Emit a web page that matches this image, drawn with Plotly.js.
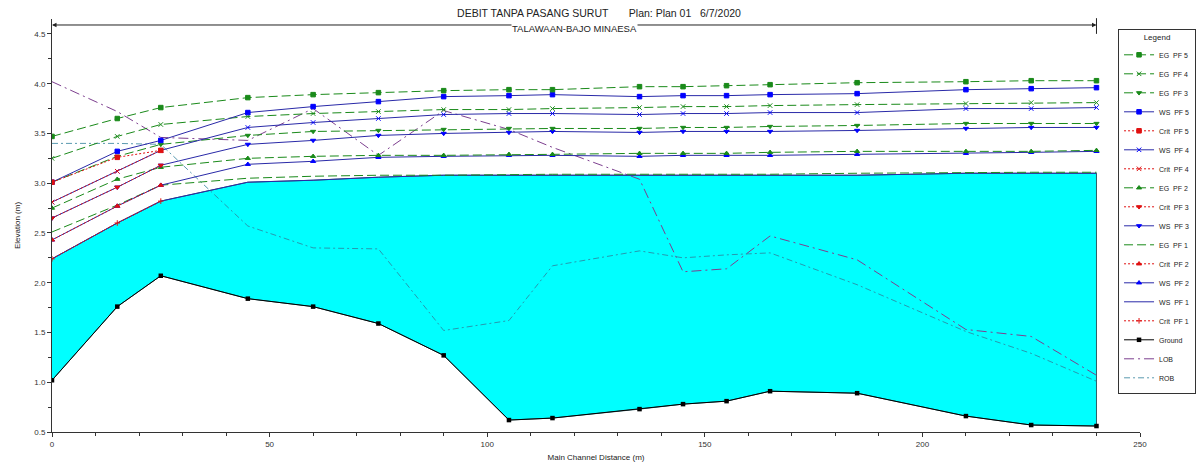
<!DOCTYPE html>
<html>
<head>
<meta charset="utf-8">
<script src="https://cdn.plot.ly/plotly-3.0.1.min.js"></script>
<style>html,body{margin:0;padding:0;background:#fff;}#chart{width:1198px;height:463px;}</style>
</head>
<body>
<div id="chart"></div>
<script>
const stations = [0,15,25,45,60,75,90,105,115,135,145,155,165,185,210,225,240];
const ground = [1.02,1.76,2.07,1.84,1.76,1.59,1.27,0.62,0.64,0.73,0.78,0.81,0.91,0.89,0.66,0.57,0.56];
const lob = [4.02,3.72,3.46,3.43,3.75,3.28,3.73,3.54,3.36,3.04,2.11,2.14,2.47,2.23,1.53,1.46,1.07];
const rob = [3.40,3.40,3.39,2.57,2.35,2.34,1.52,1.62,2.17,2.32,2.25,2.28,2.30,1.98,1.51,1.29,1.01];

const wsPF5 = [3.01,3.32,3.43,3.71,3.77,3.82,3.87,3.88,3.89,3.87,3.88,3.88,3.89,3.90,3.94,3.95,3.96];
const wsPF4 = [2.81,3.12,3.33,3.56,3.61,3.65,3.69,3.70,3.70,3.69,3.70,3.70,3.71,3.71,3.75,3.75,3.76];
const wsPF3 = [2.65,2.96,3.18,3.39,3.43,3.48,3.50,3.51,3.52,3.51,3.52,3.52,3.52,3.53,3.55,3.56,3.56];
const wsPF2 = [2.43,2.77,2.98,3.19,3.22,3.26,3.27,3.28,3.28,3.27,3.28,3.28,3.28,3.29,3.30,3.31,3.32];
const wsPF1 = [2.24,2.60,2.82,3.01,3.03,3.06,3.08,3.08,3.08,3.08,3.08,3.08,3.08,3.08,3.10,3.10,3.10];

const egPF5 = [3.47,3.65,3.76,3.86,3.89,3.91,3.93,3.94,3.94,3.97,3.97,3.98,3.99,4.01,4.02,4.03,4.03];
const egPF4 = [3.25,3.47,3.59,3.67,3.70,3.72,3.74,3.74,3.75,3.76,3.77,3.77,3.78,3.79,3.80,3.81,3.81];
const egPF3 = [3.01,3.27,3.39,3.48,3.52,3.53,3.54,3.55,3.55,3.55,3.56,3.56,3.57,3.58,3.60,3.60,3.60];
const egPF2 = [2.75,3.04,3.16,3.25,3.27,3.28,3.28,3.29,3.29,3.30,3.30,3.30,3.31,3.32,3.32,3.32,3.33];
const egPF1 = [2.51,2.78,2.98,3.05,3.07,3.08,3.08,3.09,3.09,3.09,3.09,3.09,3.09,3.10,3.11,3.11,3.11];

const critStations = [0,15,25];
const critPF5 = [3.01,3.26,3.33];
const critPF4 = [2.81,3.12,3.33];
const critPF3 = [2.65,2.96,3.18];
const critPF2 = [2.43,2.77,2.98];
const critPF1 = [2.24,2.60,2.82];

const titleText = 'DEBIT TANPA PASANG SURUT\u00a0\u00a0\u00a0\u00a0\u00a0\u00a0 Plan: Plan 01\u00a0\u00a0 6/7/2020';
const reachName = 'TALAWAAN-BAJO MINAESA';
const legendOrder = ['EG  PF 5','EG  PF 4','EG  PF 3','WS  PF 5','Crit  PF 5','WS  PF 4','Crit  PF 4','EG  PF 2','Crit  PF 3','WS  PF 3','EG  PF 1','Crit  PF 2','WS  PF 2','WS  PF 1','Crit  PF 1','Ground','LOB','ROB'];

const EGC = '#1a8a1a', WSL = '#2a2aa8', WSM = '#0000ff', CRC = '#e01010';
const FONT = 'Arial, "Liberation Sans", sans-serif';

function rank(name){ return legendOrder.indexOf(name) + 1; }

function egTrace(y, name, sym){
  return {x: stations, y: y, name: name, type:'scatter', mode: sym ? 'lines+markers' : 'lines',
    line:{color:EGC, width:1, dash:'9px,4px'},
    marker:{symbol: sym || 'circle', size:4.5, color:EGC, line:{color:EGC, width:1}},
    legendrank: rank(name)};
}
function wsTrace(y, name, sym){
  return {x: stations, y: y, name: name, type:'scatter', mode: sym ? 'lines+markers' : 'lines',
    line:{color:WSL, width:1},
    marker:{symbol: sym || 'circle', size:4.5, color:WSM, line:{color:WSM, width:1}},
    legendrank: rank(name)};
}
function critTrace(y, name, sym, size){
  return {x: critStations, y: y, name: name, type:'scatter', mode:'lines+markers',
    line:{color:CRC, width:1, dash:'2px,2px'},
    marker:{symbol: sym, size: size || 4.5, color:CRC, line:{color:CRC, width:1}},
    legendrank: rank(name)};
}

const fillX = stations.concat(stations.slice().reverse());
const fillY = wsPF1.concat(ground.slice().reverse());

const data = [
  {x: fillX, y: fillY, type:'scatter', mode:'lines', fill:'toself', fillcolor:'#00ffff',
   line:{color:'#2c5f66', width:1}, showlegend:false, hoverinfo:'skip'},
  {x: stations, y: ground, name:'Ground', type:'scatter', mode:'lines+markers',
   line:{color:'#000', width:1}, marker:{symbol:'square', size:4.5, color:'#000'}, legendrank: rank('Ground')},
  {x: stations, y: lob, name:'LOB', type:'scatter', mode:'lines',
   line:{color:'#7d3f8f', width:1, dash:'10px,4px,2px,4px'}, legendrank: rank('LOB')},
  {x: stations, y: rob, name:'ROB', type:'scatter', mode:'lines',
   line:{color:'#2f7f9a', width:0.8, dash:'6px,3px,2px,3px'}, legendrank: rank('ROB')},
  wsTrace(wsPF1, 'WS  PF 1', null),
  critTrace(critPF1, 'Crit  PF 1', 'cross-thin-open', 4),
  egTrace(egPF1, 'EG  PF 1', null),
  wsTrace(wsPF2, 'WS  PF 2', 'triangle-up'),
  critTrace(critPF2, 'Crit  PF 2', 'triangle-up'),
  egTrace(egPF2, 'EG  PF 2', 'triangle-up'),
  wsTrace(wsPF3, 'WS  PF 3', 'triangle-down'),
  critTrace(critPF3, 'Crit  PF 3', 'triangle-down'),
  egTrace(egPF3, 'EG  PF 3', 'triangle-down'),
  wsTrace(wsPF4, 'WS  PF 4', 'x-thin-open'),
  critTrace(critPF4, 'Crit  PF 4', 'x-thin-open'),
  egTrace(egPF4, 'EG  PF 4', 'x-thin-open'),
  wsTrace(wsPF5, 'WS  PF 5', 'square'),
  critTrace(critPF5, 'Crit  PF 5', 'square'),
  egTrace(egPF5, 'EG  PF 5', 'square')
];

const xStart = stations[0], xEnd = stations[stations.length-1];
const xMid = (xStart + xEnd) / 2;
const reachY = 0.9855;

const layout = {
  width:1198, height:463,
  margin:{l:52, r:58, t:19, b:31, autoexpand:false},
  paper_bgcolor:'#fff', plot_bgcolor:'#fff',
  font:{family:FONT, color:'#222', size:8},
  title:{text:titleText, x:0.5, xref:'container', xanchor:'center', y:0.972, yref:'container', yanchor:'middle',
         font:{family:FONT, size:10.5, color:'#222'}},
  xaxis:{range:[0,250], showline:true, linecolor:'#333', linewidth:1, mirror:false,
    ticks:'outside', ticklen:4, tickcolor:'#333', dtick:50, tick0:0,
    minor:{dtick:10, ticks:'outside', ticklen:3, tickcolor:'#333'},
    showgrid:false, zeroline:false, tickfont:{size:8, color:'#333'},
    title:{text:'Main Channel Distance (m)', font:{size:8, color:'#222'}, standoff:6}},
  yaxis:{range:[0.5,4.65], showline:true, linecolor:'#333', linewidth:1, mirror:false,
    ticks:'outside', ticklen:4, tickcolor:'#333', dtick:0.5, tick0:0.5, tickformat:'.1f',
    minor:{dtick:0.25, ticks:'outside', ticklen:3, tickcolor:'#333'},
    showgrid:false, zeroline:false, tickfont:{size:8, color:'#333'},
    title:{text:'Elevation (m)', font:{size:8, color:'#222'}, standoff:12}},
  legend:{x:1.0515, xanchor:'right', y:0.976, yanchor:'top', bgcolor:'#fff', bordercolor:'#333', borderwidth:1,
    font:{size:7, color:'#222'}, itemwidth:30, tracegroupgap:0,
    title:{text:'Legend', side:'top center', font:{size:8, color:'#222'}}},
  showlegend:true,
  shapes:[
    {type:'line', xref:'x', yref:'paper', x0:xEnd, x1:xEnd, y0:0.964, y1:1.002, line:{color:'#222', width:1}}
  ],
  annotations:[
    {x:xStart, y:reachY, xref:'x', yref:'paper', ax:xMid, axref:'x', ay:0, ayref:'pixel', text:'',
     showarrow:true, arrowhead:2, arrowsize:0.9, arrowwidth:1, arrowcolor:'#222'},
    {x:xEnd, y:reachY, xref:'x', yref:'paper', ax:xMid, axref:'x', ay:0, ayref:'pixel', text:'',
     showarrow:true, arrowhead:2, arrowsize:0.9, arrowwidth:1, arrowcolor:'#222'},
    {x:xMid, y:0.976, xref:'x', yref:'paper', text:reachName, showarrow:false, bgcolor:'#fff',
     xanchor:'center', yanchor:'middle', borderpad:0, font:{size:9.5, color:'#222'}}
  ]
};

Plotly.newPlot('chart', data, layout, {displayModeBar:false, staticPlot:true});
</script>
</body>
</html>
